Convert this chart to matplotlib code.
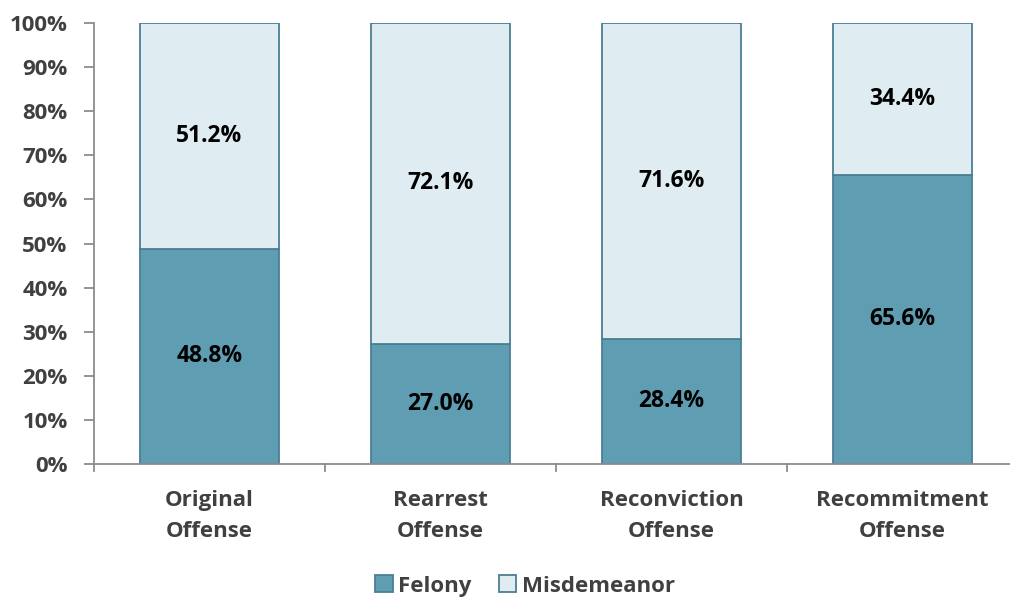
import matplotlib
matplotlib.use("Agg")
import matplotlib.pyplot as plt
import numpy as np

categories = ["Original\nOffense", "Rearrest\nOffense", "Reconviction\nOffense", "Recommitment\nOffense"]
felony = [48.8, 27.0, 28.4, 65.6]
misdemeanor = [51.2, 72.1, 71.6, 34.4]
yticks = [0, 10, 20, 30, 40, 50, 60, 70, 80, 90, 100]

plt.rcParams['font.family'] = ['Open Sans', 'DejaVu Sans']
plt.rcParams['font.weight'] = 'bold'

fel_color = "#5F9DB2"
mis_color = "#DFECF2"
edge_color = "#4A7F93"
tick_color = "#404040"

fig = plt.figure(figsize=(10.1, 6.0), dpi=100)
ax = fig.add_axes([94/1010, 1 - 464/600, 924/1010, 441/600])

fel = np.array(felony)
mis = np.array(misdemeanor)
tot = fel + mis
fel_n = fel / tot * 100
mis_n = mis / tot * 100
x = np.arange(len(categories))

ax.bar(x, fel_n, width=0.6, color=fel_color, edgecolor=edge_color, linewidth=1.3, label="Felony", zorder=2)
ax.bar(x, mis_n, width=0.6, bottom=fel_n, color=mis_color, edgecolor=edge_color, linewidth=1.3, label="Misdemeanor", zorder=2)

for i in range(len(x)):
    ax.text(x[i], fel_n[i] / 2, f"{fel[i]:.1f}%", ha="center", va="center", fontsize=16.5, fontweight="bold", color="black")
    ax.text(x[i], fel_n[i] + mis_n[i] / 2, f"{mis[i]:.1f}%", ha="center", va="center", fontsize=16.5, fontweight="bold", color="black")

ax.set_xlim(-0.5, len(categories) - 0.5)
ax.set_ylim(0, 100)
ax.set_yticks(yticks)
ax.set_yticklabels([f"{v}%" for v in yticks], fontsize=16, fontweight="bold", color=tick_color)
ax.set_xticks(x)
ax.set_xticklabels(categories, fontsize=16, fontweight="bold", color=tick_color, linespacing=1.6)
ax.tick_params(axis="x", length=0, pad=19)
ax.tick_params(axis="y", length=7, color="#8C8C8C", width=1.3, pad=12)
for b in np.arange(-0.5, len(categories), 1.0):
    ax.plot([b, b], [0, -7/441], color="#8C8C8C", lw=1.3, clip_on=False, transform=ax.get_xaxis_transform())

for s in ["top", "right"]:
    ax.spines[s].set_visible(False)
for s in ["left", "bottom"]:
    ax.spines[s].set_color("#8C8C8C")
    ax.spines[s].set_linewidth(1.3)

fig.legend(loc="center", bbox_to_anchor=(525/1010, 1 - 586/600), ncol=2, frameon=False,
           prop={"size": 16, "weight": "bold"}, handlelength=0.8, handleheight=0.8,
           handletextpad=0.25, columnspacing=1.2, labelcolor=tick_color)

fig.savefig("out.png", dpi=100)
